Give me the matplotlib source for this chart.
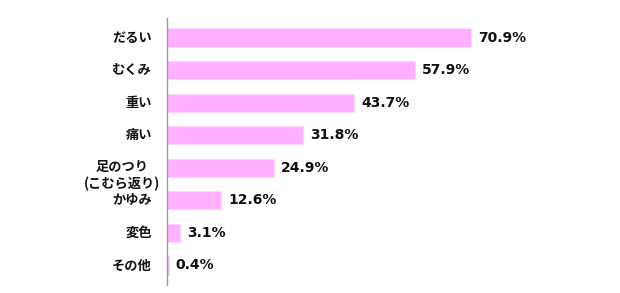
import matplotlib
matplotlib.use("Agg")
import matplotlib.pyplot as plt
import matplotlib.transforms as mtransforms

categories = ["だるい", "むくみ", "重い", "痛い", "足のつり\n(こむら返り)", "かゆみ", "変色", "その他"]
values = [70.9, 57.9, 43.7, 31.8, 24.9, 12.6, 3.1, 0.4]

fig = plt.figure(figsize=(6.2, 2.93), dpi=100)
ax = fig.add_axes([167 / 620, 1 - 285 / 293, 428.8 / 620, 267 / 293])

y = list(range(len(categories)))
ax.barh(y, values, height=0.56, color="#FFB0FF", edgecolor="#FFD6FF", linewidth=0.8)

ax.set_xlim(0, 100)
ax.set_ylim(len(categories) - 0.4, -0.6)

for sp in ["top", "right", "bottom"]:
    ax.spines[sp].set_visible(False)
ax.spines["left"].set_color("#999999")
ax.spines["left"].set_linewidth(1.0)
ax.set_xticks([])
ax.set_yticks([])

jp = ["Noto Sans CJK JP", "DejaVu Sans"]
base = mtransforms.blended_transform_factory(ax.transAxes, ax.transData)
for i, lab in enumerate(categories):
    if "\n" in lab:
        tr = base + mtransforms.ScaledTranslation(-7 / 100, 0, fig.dpi_scale_trans)
        ax.text(0, i - 0.25, lab, transform=tr, ha="right", va="top", multialignment="center",
                fontsize=9.5, fontweight="bold", family=jp, linespacing=1.25, color="#111111")
    else:
        tr = base + mtransforms.ScaledTranslation(-15 / 100, 0, fig.dpi_scale_trans)
        ax.text(0, i, lab, transform=tr, ha="right", va="center",
                fontsize=9.5, fontweight="bold", family=jp, color="#111111")

# value labels right of each bar
for i, v in enumerate(values):
    ax.annotate(f"{v:.1f}%", (v, i), xytext=(5, 0), textcoords="offset points",
                ha="left", va="center", fontsize=10, fontweight="bold",
                family="DejaVu Sans", color="#111111")

fig.savefig("out.png", dpi=100)
